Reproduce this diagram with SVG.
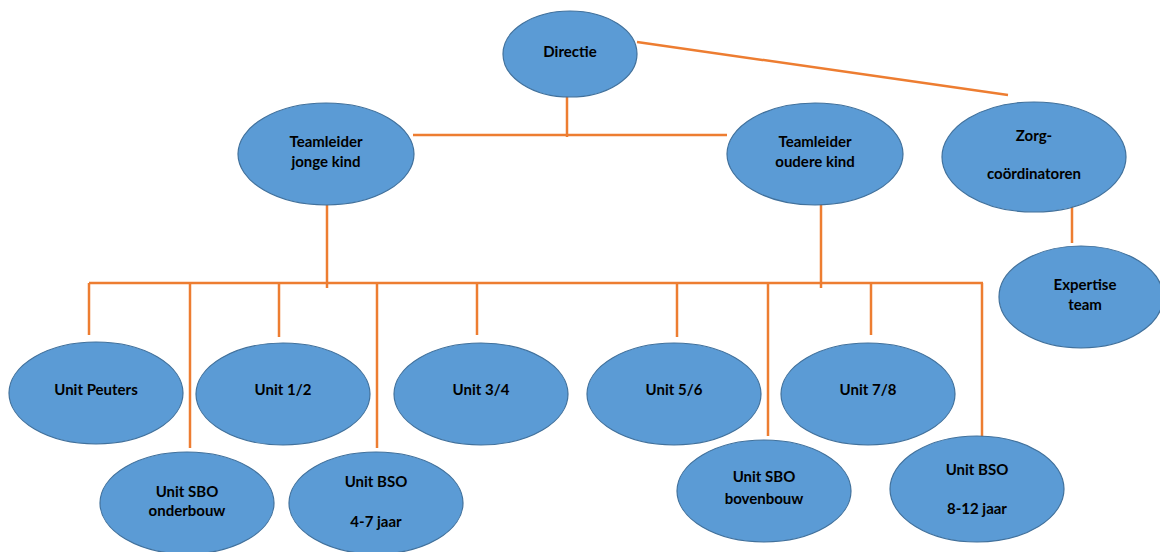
<svg xmlns="http://www.w3.org/2000/svg" width="1160" height="552" viewBox="0 0 1160 552">
<style>
.n ellipse{fill:#5B9BD5;stroke:#41719C;stroke-width:1.2}
.n text{font-family:Lato,"Liberation Sans",sans-serif;font-weight:bold;font-size:15px;fill:#000;text-anchor:middle}
#connectors line{stroke:#ED7D31;stroke-width:2.5;fill:none}
</style>
<rect width="1160" height="552" fill="#fff"/>
<g id="connectors">
<line x1="637" y1="42" x2="1008" y2="95"/>
<line x1="567" y1="83" x2="567" y2="137"/>
<line x1="413" y1="135" x2="727" y2="135"/>
<line x1="327" y1="187" x2="327" y2="288"/>
<line x1="821" y1="192" x2="821" y2="288"/>
<line x1="1072" y1="191" x2="1072" y2="243"/>
<line x1="89" y1="283" x2="983" y2="283"/>
<line x1="89" y1="283" x2="89" y2="335"/>
<line x1="190" y1="283" x2="190" y2="448"/>
<line x1="279" y1="283" x2="279" y2="337"/>
<line x1="377" y1="283" x2="377" y2="448"/>
<line x1="477" y1="283" x2="477" y2="335"/>
<line x1="677" y1="283" x2="677" y2="337"/>
<line x1="768" y1="283" x2="768" y2="436"/>
<line x1="871" y1="283" x2="871" y2="335"/>
<line x1="982" y1="283" x2="982" y2="438"/>
</g>
<g id="directie" class="n"><ellipse cx="570" cy="54" rx="67" ry="43"/><text x="570" y="57">Directie</text></g>
<g id="tl-jonge" class="n"><ellipse cx="326" cy="154" rx="88" ry="51"/><text x="326" y="147">Teamleider</text><text x="326" y="167">jonge kind</text></g>
<g id="tl-oudere" class="n"><ellipse cx="815" cy="154" rx="88" ry="51"/><text x="815" y="147">Teamleider</text><text x="815" y="167">oudere kind</text></g>
<g id="zorg" class="n"><ellipse cx="1034" cy="157" rx="92" ry="55"/><text x="1034" y="141">Zorg-</text><text x="1034" y="179">coördinatoren</text></g>
<g id="expertise" class="n"><ellipse cx="1081" cy="297" rx="82" ry="51"/><text x="1085" y="290">Expertise</text><text x="1085" y="310">team</text></g>
<g id="u-peuters" class="n"><ellipse cx="96" cy="393" rx="87" ry="51"/><text x="96" y="395">Unit Peuters</text></g>
<g id="u-12" class="n"><ellipse cx="283" cy="394" rx="87" ry="51"/><text x="283" y="395">Unit 1/2</text></g>
<g id="u-34" class="n"><ellipse cx="481" cy="394" rx="87" ry="51"/><text x="481" y="395">Unit 3/4</text></g>
<g id="u-56" class="n"><ellipse cx="674" cy="394" rx="87" ry="51"/><text x="674" y="395">Unit 5/6</text></g>
<g id="u-78" class="n"><ellipse cx="868" cy="394" rx="87" ry="51"/><text x="868" y="395">Unit 7/8</text></g>
<g id="u-sbo-onder" class="n"><ellipse cx="187" cy="503" rx="87" ry="51"/><text x="187" y="497">Unit SBO</text><text x="187" y="516">onderbouw</text></g>
<g id="u-bso-47" class="n"><ellipse cx="376" cy="503" rx="87" ry="51"/><text x="376" y="487">Unit BSO</text><text x="376" y="527">4-7 jaar</text></g>
<g id="u-sbo-boven" class="n"><ellipse cx="764" cy="491" rx="87" ry="51"/><text x="764" y="482">Unit SBO</text><text x="764" y="504">bovenbouw</text></g>
<g id="u-bso-812" class="n"><ellipse cx="977" cy="489" rx="87" ry="53"/><text x="977" y="475">Unit BSO</text><text x="977" y="514">8-12 jaar</text></g>
</svg>
